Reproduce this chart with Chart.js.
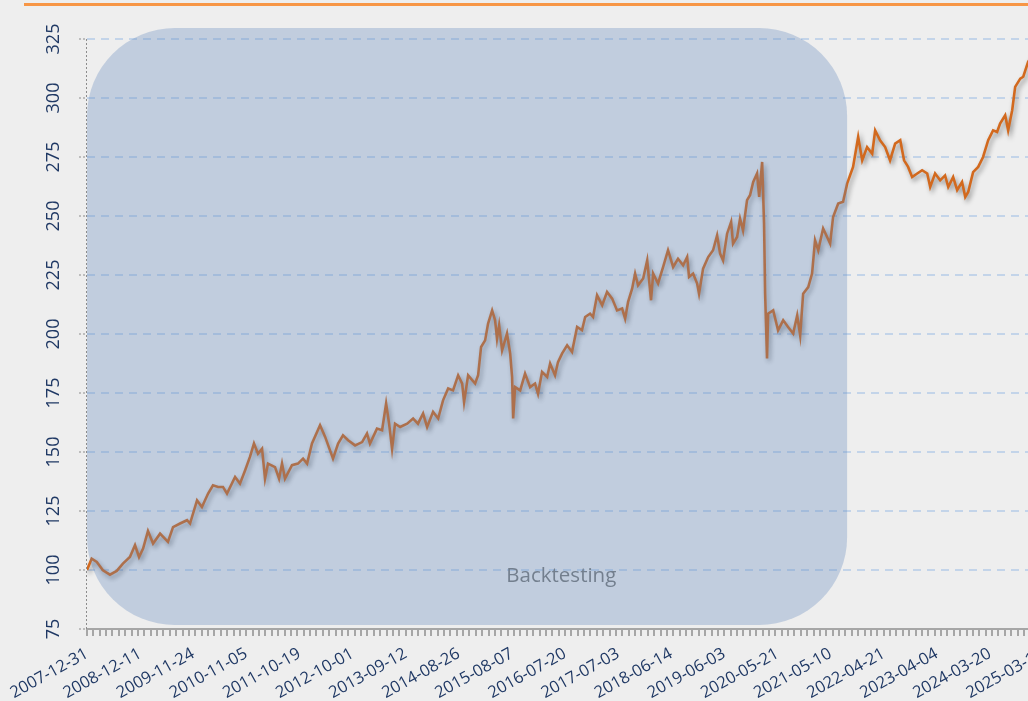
<!DOCTYPE html>
<html>
<head>
<meta charset="utf-8">
<script src="https://cdn.jsdelivr.net/npm/chart.js"></script>
<style>
  html, body { margin: 0; padding: 0; background: #eeeeee; overflow: hidden; }
  #wrap { position: relative; width: 1063px; height: 701px; }
  #topline { position: absolute; left: 24px; top: 3px; width: 1039px; height: 3px; background: #f79646; }
  canvas { position: absolute; left: 0; top: 0; }
</style>
</head>
<body>
<div id="wrap">
  <div id="topline"></div>
  <canvas id="index_chart" width="1063" height="701"></canvas>
</div>
<script>
// date shown under every 250th trading day
const tickLabels = [
  '2007-12-31', '2008-12-11', '2009-11-24', '2010-11-05', '2011-10-19',
  '2012-10-01', '2013-09-12', '2014-08-26', '2015-08-07', '2016-07-20',
  '2017-07-03', '2018-06-14', '2019-06-03', '2020-05-21', '2021-05-10',
  '2022-04-21', '2023-04-04', '2024-03-20', '2025-03-10'
];
const labelStep = 250;   // trading days between date labels
const minorStep = 30;    // trading days between small tick marks
const backtestEnd = 3578; // last trading day of the backtest period

// trading day offset from 2007-12-31
const tradingDay = [
  0, 22, 46, 75, 108, 140, 169, 202, 226, 245, 264, 287, 311, 344, 381, 405, 438, 471, 485, 518,
  541, 570, 593, 617, 640, 659, 697, 720, 744, 767, 786, 805, 824, 838, 852, 885, 904, 918, 932, 965,
  993, 1017, 1036, 1059, 1097, 1121, 1144, 1158, 1182, 1205, 1229, 1262, 1295, 1318, 1332, 1365, 1389, 1408, 1422, 1436,
  1450, 1474, 1507, 1535, 1558, 1582, 1601, 1629, 1653, 1676, 1700, 1723, 1747, 1766, 1775, 1794, 1827, 1841, 1855, 1874,
  1888, 1907, 1921, 1930, 1940, 1954, 1977, 1992, 2001, 2006, 2015, 2039, 2062, 2086, 2109, 2123, 2142, 2166, 2180, 2203,
  2217, 2236, 2260, 2283, 2307, 2330, 2345, 2368, 2382, 2401, 2425, 2448, 2472, 2495, 2519, 2533, 2547, 2566, 2580, 2594,
  2618, 2637, 2655, 2665, 2688, 2712, 2735, 2759, 2782, 2806, 2825, 2834, 2853, 2872, 2881, 2900, 2924, 2947, 2966, 2980,
  2994, 3013, 3032, 3041, 3060, 3074, 3088, 3107, 3121, 3136, 3154, 3164, 3178, 3187, 3192, 3201, 3206, 3230, 3253, 3277,
  3300, 3324, 3343, 3357, 3371, 3395, 3413, 3427, 3442, 3465, 3498, 3512, 3536, 3559, 3578, 3606, 3630, 3649, 3672, 3696,
  3710, 3733, 3757, 3780, 3804, 3828, 3846, 3865, 3884, 3908, 3931, 3955, 3969, 3992, 4016, 4039, 4054, 4077, 4096, 4119,
  4134, 4148, 4171, 4195, 4218, 4242, 4265, 4284, 4298, 4322, 4336, 4355, 4369, 4393, 4407, 4430, 4463
];

// index level, start = 100
const indexLevel = [
  100, 104.8, 103.4, 99.9, 98, 99.6, 102.7, 105.5, 110.5, 105.5, 109.1, 116.5, 111.2, 115.4, 111.9, 118.2, 119.7, 121.1, 119.7, 129.5,
  126.7, 132.4, 135.9, 135.2, 135.2, 132.4, 139.4, 136.6, 142.2, 147.9, 153.6, 149.3, 151.4, 138.7, 145.1, 143.6, 138.7, 145.1, 138.7, 144.4,
  145.1, 147.2, 145.1, 153.6, 161.3, 156.4, 150.7, 147.2, 153.6, 157.1, 155, 152.8, 154.2, 157.8, 153.6, 159.9, 159.2, 170.5, 162, 151.4,
  162, 160.6, 162, 164.2, 162, 166.3, 160.6, 167, 164.2, 171.9, 176.9, 176.1, 182.5, 179, 171.2, 182.5, 179, 182.5, 194.5, 197.3,
  204.4, 210, 205.8, 198, 203.7, 193.1, 200.2, 191.7, 181.8, 164.2, 177.5, 176.1, 183.2, 177.5, 179, 174.7, 183.9, 181.8, 187.5, 182.5,
  188.1, 191.7, 195.2, 192.4, 203, 201.6, 207.2, 208.6, 207.2, 216.4, 212.2, 217.8, 215, 210, 210.8, 206.5, 213.6, 219.2, 225.6, 220.6,
  223.5, 231.2, 214.3, 225.6, 221.4, 228.4, 235.5, 228.4, 231.9, 229.1, 232.6, 224.2, 225.6, 221.4, 217.1, 227.7, 232.6, 235.5, 241.8, 234.1,
  231.2, 242.5, 247.5, 238.3, 241.1, 248.9, 243.9, 256.7, 258.8, 264.4, 268, 258.1, 272.9, 246.8, 217.1, 189.6, 208.6, 210, 201.6, 205.8,
  203, 200.2, 207.9, 199.4, 217.1, 219.9, 225.6, 239.7, 235.5, 244.7, 238.3, 249.6, 255.3, 256, 263.7, 270.8, 283.5, 273.6, 279.2, 276.4,
  286.3, 282.1, 279.2, 273.6, 280.7, 282.1, 273.6, 270.8, 266.5, 268, 269.4, 268, 262.3, 268, 265.1, 267.2, 262.3, 266.5, 261, 264.4,
  258.1, 260.2, 268.6, 270.8, 275, 282.1, 286.3, 285.6, 289.2, 292.7, 286.3, 294.8, 304.7, 308.2, 309, 315.3, 320
];

// soft drop shadow under the index line
const lineShadow = {
  id: 'lineShadow',
  beforeDatasetsDraw(chart) {
    const c = chart.ctx;
    c.save();
    c.shadowColor = 'rgba(0,0,0,0.4)';
    c.shadowBlur = 5;
    c.shadowOffsetX = 2;
    c.shadowOffsetY = 3;
  },
  afterDatasetsDraw(chart) {
    chart.ctx.restore();
  }
};

// translucent rounded panel over the backtest period
const backtestBox = {
  id: 'backtestBox',
  afterDatasetsDraw(chart) {
    const {ctx, chartArea, scales: {x}} = chart;
    const left = x.getPixelForValue(0);
    const right = x.getPixelForValue(backtestEnd);
    const top = chartArea.top - 11;
    const bottom = chartArea.bottom - 4;
    ctx.save();
    ctx.beginPath();
    ctx.roundRect(left, top, right - left, bottom - top, 88);
    ctx.fillStyle = 'rgba(90,130,185,0.3)';
    ctx.fill();
    ctx.font = '20.5px "Open Sans"';
    ctx.fillStyle = '#737f8e';
    ctx.textAlign = 'center';
    ctx.textBaseline = 'middle';
    ctx.fillText('Backtesting', left + (right - left) * 0.624, chartArea.bottom - 53);
    ctx.restore();
  }
};

// dotted y axis line
const axisLines = {
  id: 'axisLines',
  afterDraw(chart) {
    const {ctx, chartArea} = chart;
    ctx.save();
    ctx.strokeStyle = '#8c8c8c';
    ctx.lineWidth = 1;
    ctx.setLineDash([2, 2]);
    ctx.beginPath();
    ctx.moveTo(chartArea.left - 0.5, chartArea.top);
    ctx.lineTo(chartArea.left - 0.5, chartArea.bottom);
    ctx.stroke();
    ctx.restore();
  }
};

new Chart(document.getElementById('index_chart'), {
  type: 'line',
  data: {
    datasets: [{
      label: 'index',
      data: tradingDay.map((d, i) => ({x: d, y: indexLevel[i]})),
      borderColor: '#d2691e',
      borderWidth: 2.6,
      pointRadius: 0,
      tension: 0,
      fill: false
    }]
  },
  plugins: [lineShadow, backtestBox, axisLines],
  options: {
    responsive: false,
    animation: false,
    layout: { padding: { top: 39, left: 0, right: 20, bottom: 0 } },
    plugins: { legend: { display: false }, tooltip: { enabled: false } },
    scales: {
      x: {
        type: 'linear',
        min: 0,
        max: labelStep * (tickLabels.length - 1),
        afterFit(scale) { scale.height = 72; },
        afterBuildTicks(scale) {
          const vals = [];
          for (let v = 0; v <= scale.max; v += minorStep) vals.push(v);
          tickLabels.forEach((_, i) => vals.push(i * labelStep));
          scale.ticks = [...new Set(vals)].sort((a, b) => a - b).map(v => ({value: v}));
        },
        ticks: {
          autoSkip: false,
          minRotation: 29,
          maxRotation: 29,
          padding: 8,
          color: '#1f3864',
          font: { family: 'Open Sans', size: 16.5 },
          callback: v => v % labelStep === 0 ? tickLabels[v / labelStep] : ''
        },
        grid: {
          drawOnChartArea: false,
          tickLength: 7,
          lineWidth: 2,
          color: c => (c.tick && c.tick.value % minorStep === 0) ? '#a6a6a6' : 'rgba(0,0,0,0)'
        },
        border: { display: true, color: '#a6a6a6', width: 2 }
      },
      y: {
        min: 75,
        max: 325,
        afterFit(scale) { scale.width = 87; },
        ticks: {
          stepSize: 25,
          minRotation: 90,
          maxRotation: 90,
          crossAlign: 'center',
          padding: 10,
          color: '#1f3864',
          font: { family: 'Open Sans', size: 18 }
        },
        grid: {
          color: 'rgba(110,160,225,0.33)',
          lineWidth: 2,
          tickLength: 8,
          tickColor: '#8c8c8c',
          tickWidth: 1,
          tickBorderDash: [2, 2]
        },
        border: { display: false, dash: [8, 6] }
      }
    }
  }
});
</script>
</body>
</html>
